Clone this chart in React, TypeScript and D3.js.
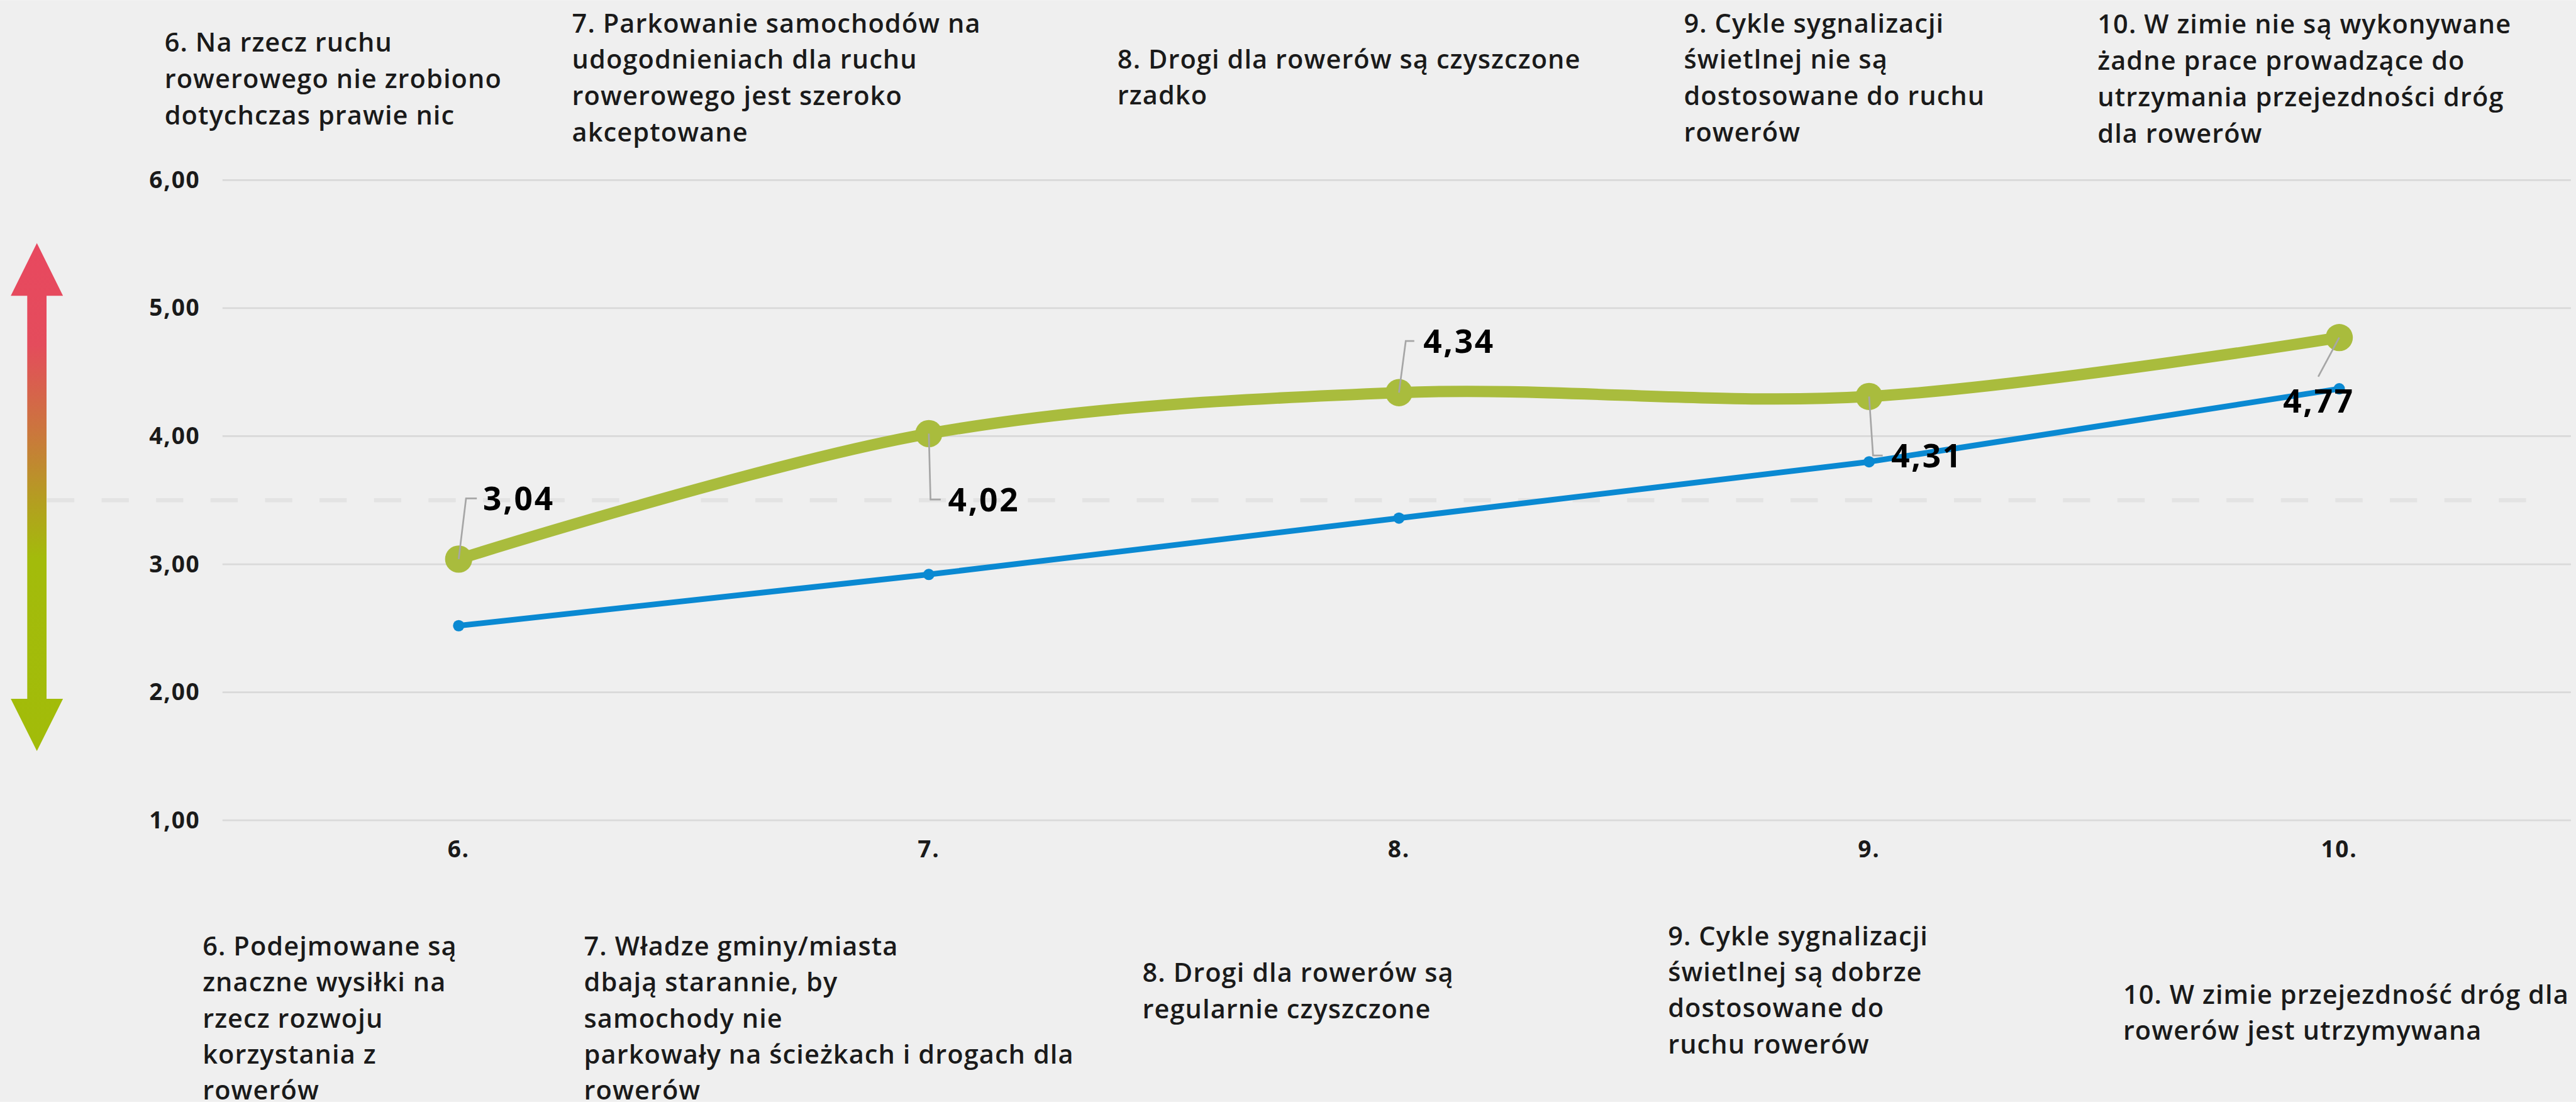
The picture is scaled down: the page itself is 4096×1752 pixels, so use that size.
import React from "react";
import * as d3 from "d3";

// ---- data ----
const categories = ["6.", "7.", "8.", "9.", "10."];
const greenValues = [3.04, 4.02, 4.34, 4.31, 4.77];
const blueValues = [2.52, 2.92, 3.36, 3.8, 4.37];
const yTicks = [1, 2, 3, 4, 5, 6];
const midValue = 3.5;

const topTexts = [
  ["6. Na rzecz ruchu", "rowerowego nie zrobiono", "dotychczas prawie nic"],
  ["7. Parkowanie samochodów na", "udogodnieniach dla ruchu", "rowerowego jest szeroko", "akceptowane"],
  ["8. Drogi dla rowerów są czyszczone", "rzadko"],
  ["9. Cykle sygnalizacji", "świetlnej nie są", "dostosowane do ruchu", "rowerów"],
  ["10. W zimie nie są wykonywane", "żadne prace prowadzące do", "utrzymania przejezdności dróg", "dla rowerów"],
];
const bottomTexts = [
  ["6. Podejmowane są", "znaczne wysiłki na", "rzecz rozwoju", "korzystania z", "rowerów"],
  ["7. Władze gminy/miasta", "dbają starannie, by", "samochody nie", "parkowały na ścieżkach i drogach dla", "rowerów"],
  ["8. Drogi dla rowerów są", "regularnie czyszczone"],
  ["9. Cykle sygnalizacji", "świetlnej są dobrze", "dostosowane do", "ruchu rowerów"],
  ["10. W zimie przejezdność dróg dla", "rowerów jest utrzymywana"],
];

// ---- layout (reference pixel space, scaled by viewBox) ----
const W = 4539;
const H = 1941;
const topTextPos = [
  { x: 290, y: 91 },
  { x: 1008, y: 57 },
  { x: 1969, y: 120 },
  { x: 2967, y: 57 },
  { x: 3696, y: 59 },
];
const bottomTextPos = [
  { x: 357, y: 1683 },
  { x: 1029, y: 1683 },
  { x: 2013, y: 1730 },
  { x: 2939, y: 1665 },
  { x: 3741, y: 1768 },
];
// leader line / label placement relative to the point
const labelPlacement = [
  { elbow: [13, -107], end: [32, -107], text: [43, -107], anchor: "start" },
  { elbow: [3, 116], end: [21, 116], text: [34, 116], anchor: "start" },
  { elbow: [12, -91], end: [27, -91], text: [43, -91], anchor: "start" },
  { elbow: [7, 104], end: [24, 104], text: [39, 104], anchor: "start" },
  { elbow: [-37, 69], end: [-37, 69], text: [-36, 112], anchor: "middle" },
];

const FONT = "'Open Sans', 'Noto Sans', sans-serif";
const GREEN = "#A9BC3D";
const BLUE = "#0A89D2";

export default function App() {
  const x = d3.scalePoint<string>().domain(categories).range([394, 4536]).padding(0.5);
  const y = d3.scaleLinear().domain([1, 6]).range([1445, 317]);
  const gridX0 = 392;
  const gridX1 = 4530;

  const greenPts: [number, number][] = categories.map((c, i) => [x(c)!, y(greenValues[i])]);
  const bluePts: [number, number][] = categories.map((c, i) => [x(c)!, y(blueValues[i])]);
  const greenPath = d3.line().curve(d3.curveCatmullRom.alpha(0.5))(greenPts) || "";
  const bluePath = d3.line().curve(d3.curveLinear)(bluePts) || "";

  const fmt = (v: number) => v.toFixed(2).replace(".", ",");
  const lh = 64;

  // arrow geometry
  const ax = 65;
  const arrowPath = [
    `M${ax},428`,
    `L111,521`,
    `L82,521`,
    `L82,1231`,
    `L111,1231`,
    `L${ax},1323`,
    `L19,1231`,
    `L48,1231`,
    `L48,521`,
    `L19,521`,
    "Z",
  ].join(" ");

  const descStyle = {
    fontFamily: FONT,
    fontWeight: 600,
    fontSize: 46,
    letterSpacing: 1.2,
    fill: "#1A1A1A",
  };

  return (
    <svg
      width={4096}
      height={1752}
      viewBox={`0 0 ${W} ${H}`}
      style={{ position: "absolute", left: 0, top: 0, display: "block" }}
    >
      <defs>
        <linearGradient id="arrowGrad" x1="0" y1="428" x2="0" y2="1323" gradientUnits="userSpaceOnUse">
          <stop offset="0" stopColor="#E8485F" />
          <stop offset="0.2" stopColor="#E44C5C" />
          <stop offset="0.37" stopColor="#CB763D" />
          <stop offset="0.5" stopColor="#B59C22" />
          <stop offset="0.62" stopColor="#A3BB0B" />
          <stop offset="1" stopColor="#A2BC09" />
        </linearGradient>
      </defs>
      <rect x={0} y={0} width={W} height={H} fill="#EFEFEF" />

      {/* gridlines */}
      {yTicks.map((t) => (
        <line key={t} x1={gridX0} x2={gridX1} y1={y(t)} y2={y(t)} stroke="#D9D9D9" strokeWidth={3} />
      ))}
      {/* y tick labels */}
      {yTicks.map((t) => (
        <text
          key={"l" + t}
          x={353}
          y={y(t) + 14}
          textAnchor="end"
          fontFamily={FONT}
          fontWeight={700}
          fontSize={41}
          letterSpacing={2}
          fill="#1A1A1A"
        >
          {t.toFixed(2).replace(".", ",")}
        </text>
      ))}
      {/* midline */}
      <line
        x1={83}
        x2={4460}
        y1={y(midValue)}
        y2={y(midValue)}
        stroke="#E3E3E3"
        strokeWidth={7}
        strokeDasharray="48 48"
      />

      {/* x labels */}
      {categories.map((c) => (
        <text
          key={"x" + c}
          x={x(c)}
          y={1510}
          textAnchor="middle"
          fontFamily={FONT}
          fontWeight={700}
          fontSize={41}
          letterSpacing={2}
          fill="#1A1A1A"
        >
          {c}
        </text>
      ))}

      {/* arrow */}
      <path d={arrowPath} fill="url(#arrowGrad)" />

      {/* series */}
      <path d={bluePath} fill="none" stroke={BLUE} strokeWidth={10} strokeLinejoin="round" />
      {bluePts.map((p, i) => (
        <circle key={"b" + i} cx={p[0]} cy={p[1]} r={10} fill={BLUE} />
      ))}
      <path d={greenPath} fill="none" stroke={GREEN} strokeWidth={20} strokeLinecap="round" />
      {greenPts.map((p, i) => (
        <circle key={"g" + i} cx={p[0]} cy={p[1]} r={24} fill={GREEN} />
      ))}

      {/* leader lines + data labels */}
      {greenPts.map((p, i) => {
        const lp = labelPlacement[i];
        const pts = [
          [p[0], p[1]],
          [p[0] + lp.elbow[0], p[1] + lp.elbow[1]],
          [p[0] + lp.end[0], p[1] + lp.end[1]],
        ] as [number, number][];
        return (
          <g key={"lab" + i}>
            <path d={d3.line()(pts) || ""} fill="none" stroke="#A6A6A6" strokeWidth={3} />
            <text
              x={p[0] + lp.text[0]}
              y={p[1] + lp.text[1]}
              dy="0.36em"
              textAnchor={lp.anchor}
              fontFamily={FONT}
              fontWeight={700}
              fontSize={57}
              letterSpacing={3}
              fill="#000"
            >
              {fmt(greenValues[i])}
            </text>
          </g>
        );
      })}

      {/* top descriptions */}
      {topTexts.map((lines, i) => (
        <text key={"t" + i} {...descStyle}>
          {lines.map((ln, j) => (
            <tspan key={j} x={topTextPos[i].x} y={topTextPos[i].y + j * lh}>
              {ln}
            </tspan>
          ))}
        </text>
      ))}
      {/* bottom descriptions */}
      {bottomTexts.map((lines, i) => (
        <text key={"bt" + i} {...descStyle}>
          {lines.map((ln, j) => (
            <tspan key={j} x={bottomTextPos[i].x} y={bottomTextPos[i].y + j * 63.5}>
              {ln}
            </tspan>
          ))}
        </text>
      ))}
    </svg>
  );
}
